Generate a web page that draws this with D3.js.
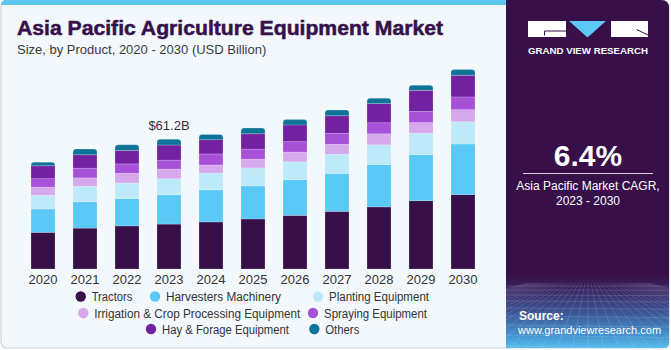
<!DOCTYPE html>
<html><head><meta charset="utf-8">
<script src="https://cdn.jsdelivr.net/npm/d3@7"></script>
<style>
html,body{margin:0;padding:0;background:#fff;}
svg{display:block;font-family:"Liberation Sans",Arial,sans-serif;}
</style></head>
<body><svg id="c" width="671" height="350"></svg>
<script>
const years = ["2020","2021","2022","2023","2024","2025","2026","2027","2028","2029","2030"];
const seriesNames = ["Tractors","Harvesters Machinery","Planting Equipment","Irrigation & Crop Processing Equipment","Spraying Equipment","Hay & Forage Equipment","Others"];
const tractors   = [17.3,19.3,20.3,21.2,22.2,23.6,25.3,27.2,29.3,32.2,35.1];
const harvesters = [11.0,12.4,12.9,13.8,15.1,15.6,16.8,17.9,20.0,21.7,23.9];
const planting   = [6.5,7.4,7.4,7.6,8.0,8.5,8.5,9.1,9.3,10.2,10.5];
const irrigation = [3.9,3.9,4.6,4.6,3.8,4.2,4.6,4.7,5.2,5.0,5.7];
const spraying   = [3.9,4.6,4.4,4.2,5.2,4.7,4.9,5.2,5.2,5.3,6.0];
const hay        = [6.1,6.3,6.3,7.1,6.7,7.2,7.9,8.2,9.1,9.9,10.2];
const others     = [1.7,2.7,2.7,2.7,2.5,2.7,2.5,2.7,2.5,2.4,2.7];
const colors = ["#37104a","#5bc9f6","#bde9f9","#d6a9ec","#a651d8","#7221a0","#0e7598"];
const annotation = {year:"2023", label:"$61.2B"};
const cagr = "6.4%";

const seriesVals = [tractors,harvesters,planting,irrigation,spraying,hay,others];
const table = years.map((y,i)=>{const o={year:y}; seriesNames.forEach((n,k)=>o[n]=seriesVals[k][i]); return o;});

const svg = d3.select("#c");
const defs = svg.append("defs");

// frame
svg.append("rect").attr("x",1).attr("y",0.5).attr("width",668).attr("height",347.5).attr("rx",6)
  .attr("fill","#f3f8fc").attr("stroke","#cdd1d4").attr("stroke-width",1.2);
// top stripe
svg.append("path").attr("d","M1,6 L1,5 Q1,0 6,0 L508,0 L508,5 L1,5 Z").attr("fill","#5ec6ef");

// right panel
const grad = defs.append("linearGradient").attr("id","pg").attr("x1",0).attr("y1",0).attr("x2",0).attr("y2",1);
[[0,"#37104a"],[0.79,"#37104a"],[0.83,"#3a2462"],[0.9,"#3d5798"],[0.96,"#4490cc"],[1,"#57bdec"]]
  .forEach(s=>grad.append("stop").attr("offset",s[0]).attr("stop-color",s[1]));
const px0=506, px1=669, py0=0, py1=348;
svg.append("path").attr("d",`M${px0},${py0} L${px1-8},${py0} Q${px1},${py0} ${px1},${py0+8} L${px1},${py1-5} Q${px1},${py1} ${px1-5},${py1} L${px0},${py1} Z`)
  .attr("fill","url(#pg)");
defs.append("clipPath").attr("id","gc").append("rect").attr("x",px0).attr("y",283).attr("width",px1-px0).attr("height",py1-283);
const grid = svg.append("g").attr("clip-path","url(#gc)").attr("stroke","#ffffff").attr("stroke-opacity",0.18).attr("stroke-width",0.7).attr("fill","none");
[286,290,295,301,308,316,325,335,346].forEach(y=>grid.append("line").attr("x1",px0).attr("x2",px1).attr("y1",y).attr("y2",y+ (y-283)*0.05));
d3.range(-20,21).forEach(k=>grid.append("line").attr("x1",588+k*3).attr("y1",283).attr("x2",588+k*16).attr("y2",350));

// logo
const lg = svg.append("g");
lg.append("rect").attr("x",528).attr("y",21).attr("width",38).attr("height",16).attr("fill","#fff");
lg.append("path").attr("d","M566,31 L544.5,31 L544.5,35.5").attr("stroke","#37104a").attr("stroke-width",1).attr("fill","none");
lg.append("path").attr("d","M569,21 L606,21 L587.5,37.5 Z").attr("fill","#5bc8f5");
lg.append("rect").attr("x",611).attr("y",21).attr("width",37).attr("height",16).attr("fill","#fff");
lg.append("path").attr("d","M636.5,29.5 L648,35").attr("stroke","#37104a").attr("stroke-width",1);
lg.append("text").attr("x",588).attr("y",54).attr("text-anchor","middle").attr("fill","#fff")
  .attr("font-size",8.8).attr("font-weight","bold").attr("textLength",120).attr("lengthAdjust","spacingAndGlyphs").text("GRAND VIEW RESEARCH");

// panel texts
svg.append("text").attr("x",588).attr("y",166).attr("text-anchor","middle").attr("fill","#fff")
  .attr("font-size",30).attr("font-weight","bold").text(cagr);
svg.append("line").attr("x1",523).attr("x2",653).attr("y1",173.5).attr("y2",173.5).attr("stroke","#d9cfe0").attr("stroke-width",1);
svg.append("text").attr("x",588).attr("y",189.5).attr("text-anchor","middle").attr("fill","#fff").attr("font-size",12).text("Asia Pacific Market CAGR,");
svg.append("text").attr("x",588).attr("y",204.5).attr("text-anchor","middle").attr("fill","#fff").attr("font-size",12).text("2023 - 2030");
svg.append("text").attr("x",519).attr("y",320).attr("fill","#fff").attr("font-size",12).attr("font-weight","bold").text("Source:");
svg.append("text").attr("x",518).attr("y",334).attr("fill","#fff").attr("font-size",11).text("www.grandviewresearch.com");

// title
svg.append("text").attr("x",17).attr("y",35).attr("fill","#36104a").attr("stroke","#36104a").attr("stroke-width",0.5)
  .attr("font-size",19.5).attr("font-weight","900")
  .attr("textLength",426).attr("lengthAdjust","spacingAndGlyphs").text("Asia Pacific Agriculture Equipment Market");
svg.append("text").attr("x",17).attr("y",53.5).attr("fill","#3a3a3a").attr("font-size",13).text("Size, by Product, 2020 - 2030 (USD Billion)");

// scales
const x = d3.scaleBand().domain(years).range([31,475]).paddingInner(18/42).paddingOuter(0);
const y = d3.scaleLinear().domain([0,100]).range([269,57.1]);

const stack = d3.stack().keys(seriesNames)(table);
const g = svg.append("g");
stack.forEach((layer,k)=>{
  const last = k===stack.length-1;
  layer.forEach(d=>{
    const x0 = x(d.data.year), w = x.bandwidth(), yt = y(d[1]), yb = y(d[0]);
    if(last){
      const r=3;
      g.append("path").attr("d",`M${x0},${yb} L${x0},${yt+r} Q${x0},${yt} ${x0+r},${yt} L${x0+w-r},${yt} Q${x0+w},${yt} ${x0+w},${yt+r} L${x0+w},${yb} Z`)
        .attr("fill",colors[k]).attr("stroke","#ffffff").attr("stroke-opacity",0.3).attr("stroke-width",0.6);
    } else {
      g.append("rect").attr("x",x0).attr("y",yt).attr("width",w).attr("height",yb-yt)
        .attr("fill",colors[k]).attr("stroke","#ffffff").attr("stroke-opacity",0.3).attr("stroke-width",0.6);
    }
  });
});

// x axis labels
const xa = svg.append("g").attr("transform","translate(0,269)")
  .call(d3.axisBottom(x).tickSize(0).tickPadding(0));
xa.select(".domain").remove();
xa.selectAll("text").attr("font-size",13).attr("fill","#333").attr("font-family","Liberation Sans, Arial, sans-serif").attr("dy","14.5");

// annotation
const ai = years.indexOf(annotation.year);
const tot = seriesVals.reduce((s,a)=>s+a[ai],0);
svg.append("text").attr("x",x(annotation.year)+x.bandwidth()/2).attr("y",y(tot)-9.5).attr("text-anchor","middle")
  .attr("font-size",13).attr("fill","#333").text(annotation.label);

// legend
const legendPos = [
  {cx:80.7, cy:296.5, tw:40.6},
  {cx:155, cy:296.5, tw:115},
  {cx:318, cy:296.5, tw:100},
  {cx:83.3, cy:313, tw:206},
  {cx:313, cy:313, tw:103},
  {cx:151, cy:329, tw:127},
  {cx:314.3, cy:329, tw:34}
];
const lgG = svg.append("g");
seriesNames.forEach((n,k)=>{
  const p = legendPos[k];
  lgG.append("circle").attr("cx",p.cx).attr("cy",p.cy).attr("r",5.2).attr("fill",colors[k]);
  lgG.append("text").attr("x",p.cx+11).attr("y",p.cy+4.5).attr("font-size",12.5).attr("fill","#333")
    .attr("textLength",p.tw).attr("lengthAdjust","spacingAndGlyphs").text(n);
});
</script></body></html>
